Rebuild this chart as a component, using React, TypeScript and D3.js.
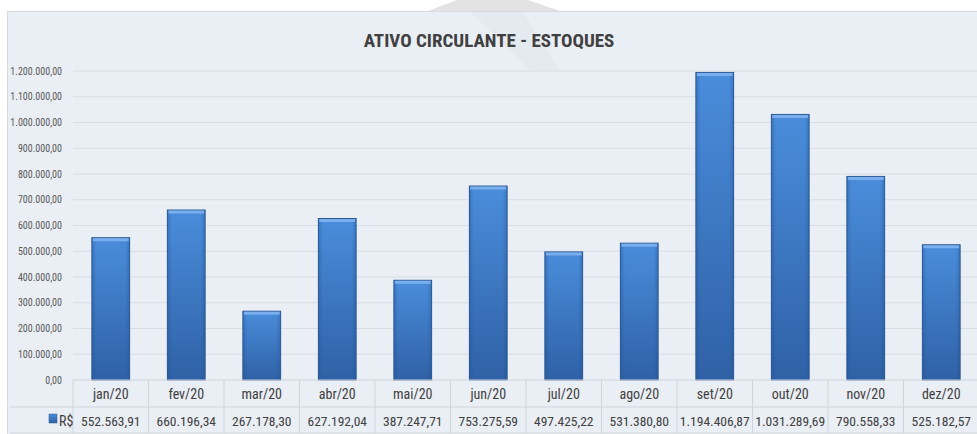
import React from "react";
import * as d3 from "d3";

const categories = ["jan/20","fev/20","mar/20","abr/20","mai/20","jun/20","jul/20","ago/20","set/20","out/20","nov/20","dez/20"];
const values = [552563.91,660196.34,267178.30,627192.04,387247.71,753275.59,497425.22,531380.80,1194406.87,1031289.69,790558.33,525182.57];
const valueLabels = ["552.563,91","660.196,34","267.178,30","627.192,04","387.247,71","753.275,59","497.425,22","531.380,80","1.194.406,87","1.031.289,69","790.558,33","525.182,57"];
const yTicks = [0,100000,200000,300000,400000,500000,600000,700000,800000,900000,1000000,1100000,1200000];
const seriesName = "R$";
const title = "ATIVO CIRCULANTE - ESTOQUES";

const W = 977, H = 434;
const FONT = "'Liberation Sans Narrow', 'Roboto Condensed', 'Liberation Sans', sans-serif";

const fmt = (v: number) => {
  const s = Math.round(v).toString().replace(/\B(?=(\d{3})+(?!\d))/g, ".");
  return s + ",00";
};

export default function App() {
  const x = d3.scaleBand<string>().domain(categories).range([73, 979]).paddingInner(0.5).paddingOuter(0.25);
  const y = d3.scaleLinear().domain([0, 1200000]).range([380, 71]);
  const step = x.step();
  const left0 = 73;
  const row1 = 380, row2 = 407, row3 = 433;
  return (
    <svg width={W} height={H} style={{ position: "absolute", left: 0, top: 0, background: "#fff" }}>
      <defs>
        <linearGradient id="barG" x1="0" y1="0" x2="0" y2="1">
          <stop offset="0" stopColor="#4a8ddb" />
          <stop offset="1" stopColor="#2f61a6" />
        </linearGradient>
        <linearGradient id="barH" x1="0" y1="0" x2="1" y2="0">
          <stop offset="0" stopColor="#1f4f8f" stopOpacity="0.35" />
          <stop offset="0.12" stopColor="#1f4f8f" stopOpacity="0" />
          <stop offset="0.88" stopColor="#1f4f8f" stopOpacity="0" />
          <stop offset="1" stopColor="#1f4f8f" stopOpacity="0.35" />
        </linearGradient>
      </defs>
      <rect x={7.5} y={11.5} width={975} height={430} fill="#eaeef5" stroke="#d6dbe2" />
      <path d="M428,11 L462,-2 L522,-2 L560,11 Z" fill="#dcdcdc" opacity={0.8} />
      <path d="M470,11 L522,11 L560,70 L530,70 Z" fill="#9aa0a8" opacity={0.06} />
      <text x={489} y={47} textAnchor="middle" fontFamily={FONT} fontWeight="bold" fontSize={19} fill="#404040">{title}</text>
      {yTicks.map(t => (
        <g key={t}>
          {t > 0 && <line x1={73} x2={977} y1={y(t)} y2={y(t)} stroke="#d9dde3" strokeWidth={1} />}
          <text x={62} y={y(t) + 3.5} textAnchor="end" fontFamily={FONT} fontSize={10} fill="#595959">{fmt(t).replace(/^0,00$/, "0,00")}</text>
        </g>
      ))}
      {categories.map((c, i) => {
        const bx = x(c)!;
        const bw = x.bandwidth();
        const by = y(values[i]);
        const bh = y(0) - by;
        return (
          <g key={c}>
            <rect x={bx} y={by} width={bw} height={bh} fill="url(#barG)" stroke="#2b5895" strokeWidth={1} />
            <rect x={bx} y={by} width={bw} height={bh} fill="url(#barH)" />
            <rect x={bx + 1} y={by + 0.5} width={bw - 2} height={3} fill="#7fb3ee" opacity={0.9} />
          </g>
        );
      })}
      {/* data table */}
      <line x1={left0} x2={977} y1={row1} y2={row1} stroke="#d0d5dc" />
      <line x1={10} x2={977} y1={row2} y2={row2} stroke="#d0d5dc" />
      <line x1={10} x2={977} y1={row3} y2={row3} stroke="#d0d5dc" />
      {d3.range(13).map(k => (
        <line key={k} x1={left0 + k * step} x2={left0 + k * step} y1={row1} y2={row3} stroke="#d0d5dc" />
      ))}
      {categories.map((c, i) => (
        <g key={c}>
          <text x={x(c)! + x.bandwidth() / 2} y={row1 + 19} textAnchor="middle" fontFamily={FONT} fontSize={14} fill="#404040">{c}</text>
          <text x={x(c)! + x.bandwidth() / 2} y={row2 + 19} textAnchor="middle" fontFamily={FONT} fontSize={13.5} fill="#404040">{valueLabels[i]}</text>
        </g>
      ))}
      <rect x={49} y={414} width={8} height={9} fill="url(#barG)" stroke="#2b5895" strokeWidth={0.5} />
      <text x={59} y={row2 + 19} fontFamily={FONT} fontSize={14} fill="#404040">{seriesName}</text>
    </svg>
  );
}
